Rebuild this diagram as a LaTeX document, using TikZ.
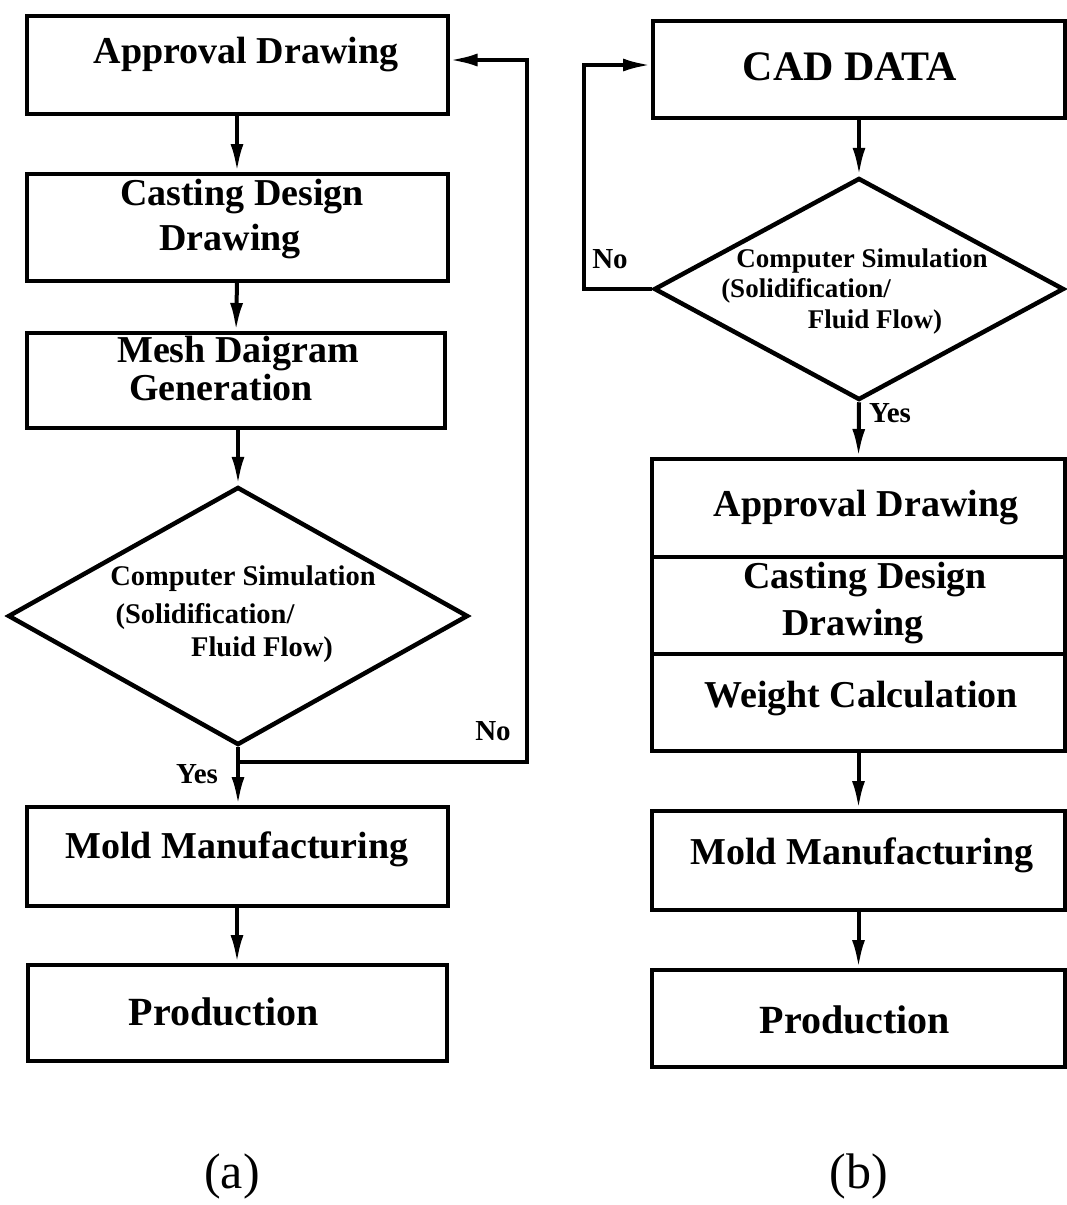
\documentclass[tikz,border=0pt]{standalone}
\usepackage{fontspec}
\setmainfont{Liberation Serif}
\usetikzlibrary{shapes.geometric,arrows.meta}
\begin{document}
\begin{tikzpicture}[x=1pt,y=-1pt,
  box/.style={draw, line width=4pt, rectangle, inner sep=0pt},
  dia/.style={draw, line width=4.5pt, diamond, inner sep=0pt},
  arr/.style={line width=4pt, -{Latex[length=28pt,width=13pt]}},
  lnk/.style={line width=4pt},
  bigtxt/.style={font=\fontsize{38}{45}\selectfont\bfseries, anchor=base, inner sep=0pt},
  hugetxt/.style={font=\fontsize{42}{48}\selectfont\bfseries, anchor=base, inner sep=0pt},
  prodtxt/.style={font=\fontsize{40}{46}\selectfont\bfseries, anchor=base, inner sep=0pt},
  simL/.style={font=\fontsize{28.5}{34}\selectfont\bfseries, anchor=base, inner sep=0pt},
  simR/.style={font=\fontsize{27}{32}\selectfont\bfseries, anchor=base, inner sep=0pt},
  yntxt/.style={font=\fontsize{29}{34}\selectfont\bfseries, anchor=base, inner sep=0pt},
  captxt/.style={font=\fontsize{50}{56}\selectfont, anchor=base, inner sep=0pt}
]
\useasboundingbox (0,0) rectangle (1066,1205);

% ---------- (a) left column ----------
\node[box, minimum width=421pt, minimum height=98pt]  (la1) at (237,65) {};
\node[box, minimum width=421pt, minimum height=107pt] (la2) at (237,227.5) {};
\node[box, minimum width=418pt, minimum height=95pt]  (la3) at (236,380.5) {};
\node[dia, minimum width=460pt, minimum height=258pt] (ld)  at (238,616) {};
\node[box, minimum width=421pt, minimum height=99pt]  (la4) at (237,856.5) {};
\node[box, minimum width=419pt, minimum height=96pt]  (la5) at (237,1013) {};

\node[bigtxt] (ta1)  at (246,63)  {Approval Drawing};
\node[bigtxt] (ta2a) at (242,205) {Casting Design};
\node[bigtxt] (ta2b) at (230,250) {Drawing};
\node[bigtxt] (ta3a) at (238,362) {Mesh Daigram};
\node[bigtxt] (ta3b) at (221,400) {Generation};
\node[simL] (tda) at (243,585) {Computer Simulation};
\node[simL] (tdb) at (205,623) {(Solidification/};
\node[simL] (tdc) at (262,656) {Fluid Flow)};
\node[bigtxt] (ta4) at (237,858) {Mold Manufacturing};
\node[prodtxt] (ta5) at (224,1025) {Production};

\node[yntxt] (yesL) at (197,783) {Yes};
\node[yntxt] (noL)  at (493,740) {No};

\draw[arr] (la1.south) -- (la2.north);
\draw[arr] (la2.south) -- (la3.north);
\draw[arr] (la3.south -| ld.north) -- (ld.north);
\draw[arr] (ld.south) -- (la4.north -| ld.south);
\draw[arr] (la4.south) -- (la5.north);

\coordinate (cl1) at (527,762);
\coordinate (cl2) at (527,60);
\draw[arr] (cl1 -| ld.south) -- (cl1) -- (cl2) -- (cl2 -| la1.east);

% ---------- (b) right column ----------
\node[box, minimum width=412pt, minimum height=97pt] (rb1) at (859,69.5) {};
\node[dia, minimum width=410pt, minimum height=222pt] (rd) at (859,289) {};
\node[box, minimum width=413pt, minimum height=98pt] (rb2a) at (858.5,508) {};
\node[box, minimum width=413pt, minimum height=97pt] (rb2b) at (858.5,605.5) {};
\node[box, minimum width=413pt, minimum height=97pt] (rb2c) at (858.5,702.5) {};
\node[box, minimum width=413pt, minimum height=99pt] (rb3) at (858.5,860.5) {};
\node[box, minimum width=413pt, minimum height=97pt] (rb4) at (858.5,1018.5) {};

\node[hugetxt] (tb1) at (850,80) {CAD DATA};
\node[simR] (tdra) at (862,267) {Computer Simulation};
\node[simR] (tdrb) at (806,297) {(Solidification/};
\node[simR] (tdrc) at (875,328) {Fluid Flow)};
\node[bigtxt] (tb2a)  at (866,516) {Approval Drawing};
\node[bigtxt] (tb2b1) at (865,588) {Casting Design};
\node[bigtxt] (tb2b2) at (853,635) {Drawing};
\node[bigtxt] (tb2c)  at (861,707) {Weight Calculation};
\node[bigtxt] (tb3) at (862,864) {Mold Manufacturing};
\node[prodtxt] (tb4) at (855,1033) {Production};

\node[yntxt] (noR)  at (610,268) {No};
\node[yntxt] (yesR) at (890,422) {Yes};

\draw[arr] (rb1.south) -- (rd.north);
\draw[arr] (rd.south) -- (rb2a.north);
\draw[arr] (rb2c.south) -- (rb3.north);
\draw[arr] (rb3.south) -- (rb4.north);

\coordinate (cr1) at (584,65);
\draw[arr] (rd.west) -| (cr1) -- (cr1 -| rb1.west);

% ---------- captions ----------
\node[captxt] (capa) at (232,1188) {(a)};
\node[captxt] (capb) at (859,1188) {(b)};
\end{tikzpicture}
\end{document}
